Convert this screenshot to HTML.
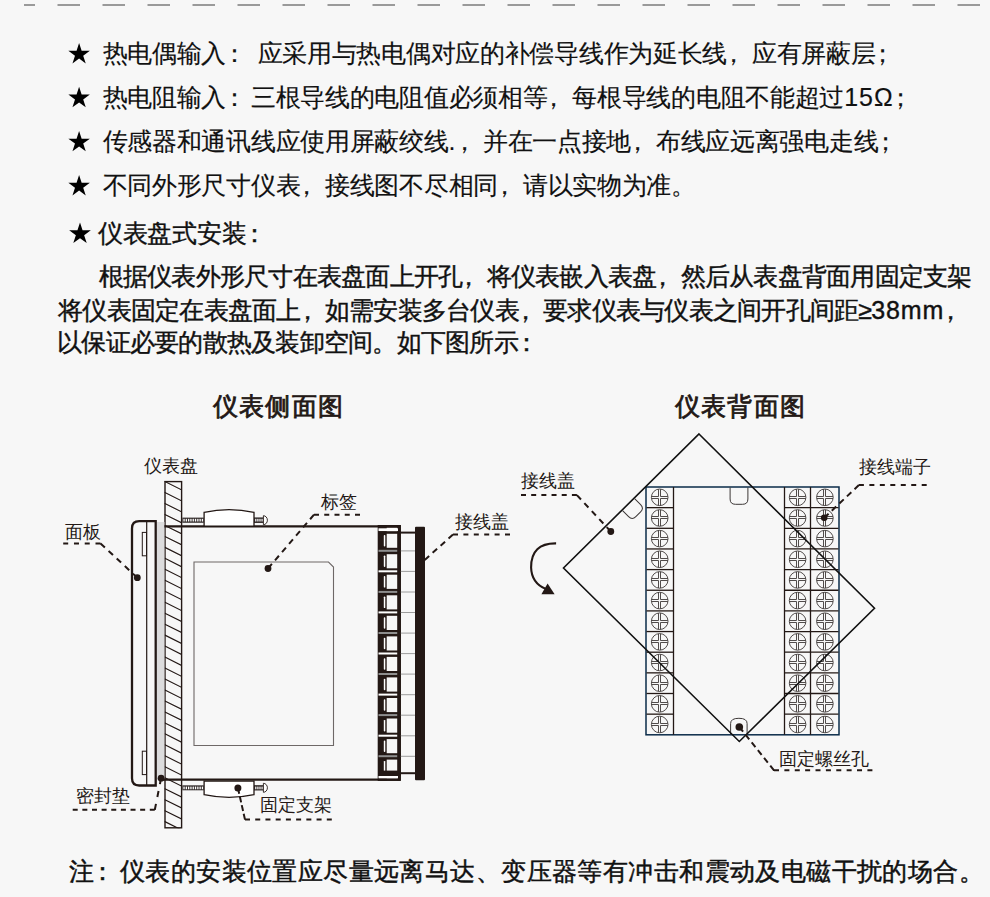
<!DOCTYPE html>
<html><head><meta charset="utf-8">
<style>
html,body{margin:0;padding:0;}
body{width:990px;height:897px;background:#f7f7f7;position:relative;overflow:hidden;font-family:"Liberation Sans",sans-serif;color:#111;}
.t{position:absolute;white-space:nowrap;line-height:1;}
.b{font-size:25px;letter-spacing:-0.28px;-webkit-text-stroke:0.15px #111;}
.p{font-size:25px;letter-spacing:-0.75px;-webkit-text-stroke:0.4px #111;}
.b5{font-size:25px;letter-spacing:-0.28px;-webkit-text-stroke:0.35px #111;}
.m{letter-spacing:0.9px;}
.m2{letter-spacing:1.0px;}
.m3{letter-spacing:2.5px;}
.pc,.pk,.ps{display:inline-block;}
.pc{transform:translateX(-6px);}
.pk{transform:translateX(-4px);}
.ps{transform:translateX(-5.5px);}
.n{font-size:25px;letter-spacing:0.42px;-webkit-text-stroke:0.45px #111;}
.lb{font-size:17.5px;color:#231815;}
.ti{font-family:"Liberation Serif",serif;font-weight:normal;font-size:25px;color:#231815;letter-spacing:1.4px;-webkit-text-stroke:0.8px #231815}
svg{position:absolute;left:0;top:0;}
</style></head><body>
<svg width="990" height="897" viewBox="0 0 990 897">
<line x1="12.5" y1="5" x2="990" y2="5" stroke="#7c7c7c" stroke-width="1.3" stroke-dasharray="22.5 22.5"/>
<rect x="0" y="0" width="24" height="10" fill="#f7f7f7"/>
<polygon points="79.10,43.00 81.64,50.81 89.85,50.81 83.21,55.63 85.74,63.44 79.10,58.62 72.46,63.44 74.99,55.63 68.35,50.81 76.56,50.81" fill="#000"/>
<polygon points="79.10,86.80 81.64,94.61 89.85,94.61 83.21,99.43 85.74,107.24 79.10,102.42 72.46,107.24 74.99,99.43 68.35,94.61 76.56,94.61" fill="#000"/>
<polygon points="79.10,130.90 81.64,138.71 89.85,138.71 83.21,143.53 85.74,151.34 79.10,146.52 72.46,151.34 74.99,143.53 68.35,138.71 76.56,138.71" fill="#000"/>
<polygon points="79.10,175.00 81.64,182.81 89.85,182.81 83.21,187.63 85.74,195.44 79.10,190.62 72.46,195.44 74.99,187.63 68.35,182.81 76.56,182.81" fill="#000"/>
<polygon points="80.00,222.40 82.56,230.28 90.84,230.28 84.14,235.15 86.70,243.02 80.00,238.15 73.30,243.02 75.86,235.15 69.16,230.28 77.44,230.28" fill="#000"/>
<defs><clipPath id="hc"><rect x="164.4" y="481" width="17.6" height="347.3"/></clipPath></defs>
<path d="M164.4 481.30L182 490.10M164.4 492.27L182 501.07M164.4 503.24L182 512.04M164.4 514.21L182 523.01M164.4 525.18L182 533.98M164.4 536.15L182 544.95M164.4 547.12L182 555.92M164.4 558.09L182 566.89M164.4 569.06L182 577.86M164.4 580.03L182 588.83M164.4 591.00L182 599.80M164.4 601.97L182 610.77M164.4 612.94L182 621.74M164.4 623.91L182 632.71M164.4 634.88L182 643.68M164.4 645.85L182 654.65M164.4 656.82L182 665.62M164.4 667.79L182 676.59M164.4 678.76L182 687.56M164.4 689.73L182 698.53M164.4 700.70L182 709.50M164.4 711.67L182 720.47M164.4 722.64L182 731.44M164.4 733.61L182 742.41M164.4 744.58L182 753.38M164.4 755.55L182 764.35M164.4 766.52L182 775.32M164.4 777.49L182 786.29M164.4 788.46L182 797.26M164.4 799.43L182 808.23M164.4 810.40L182 819.20M164.4 821.37L182 830.17M164.4 832.34L182 841.14" stroke="#231815" stroke-width="1.15" clip-path="url(#hc)"/>
<rect x="165" y="481.6" width="16.6" height="346.2" fill="none" stroke="#231815" stroke-width="1.4"/>
<rect x="156.8" y="522" width="7.6" height="258" fill="#dcdcdd"/>
<path d="M155.7 521.2H139.2Q132 521.2 132 528.4V778.3Q132 785.5 139.2 785.5H155.7Z" fill="none" stroke="#231815" stroke-width="2.3"/>
<line x1="146.7" y1="522" x2="146.7" y2="785" stroke="#231815" stroke-width="1.2"/>
<rect x="142.3" y="532.4" width="4.2" height="23.4" fill="none" stroke="#231815" stroke-width="1"/>
<rect x="142.3" y="751.2" width="4.2" height="23.4" fill="none" stroke="#231815" stroke-width="1"/>
<line x1="164.4" y1="526.3" x2="400" y2="526.3" stroke="#231815" stroke-width="2.2"/>
<line x1="161" y1="779.7" x2="400" y2="779.7" stroke="#231815" stroke-width="2.2"/>
<path d="M194 745.5V562H328.5L333.5 567V745.5Z" fill="none" stroke="#6e6867" stroke-width="1.1"/>
<rect x="182.3" y="517.6" width="21.5" height="5.2" fill="#3a3332"/>
<rect x="254" y="517.4" width="9.5" height="5.6" fill="#3a3332"/>
<rect x="183.4" y="518.8" width="1.3" height="2.8" rx="0.6" fill="#fff"/>
<rect x="185.7" y="518.8" width="1.3" height="2.8" rx="0.6" fill="#fff"/>
<rect x="188.0" y="518.8" width="1.3" height="2.8" rx="0.6" fill="#fff"/>
<rect x="190.3" y="518.8" width="1.3" height="2.8" rx="0.6" fill="#fff"/>
<rect x="192.6" y="518.8" width="1.3" height="2.8" rx="0.6" fill="#fff"/>
<rect x="194.9" y="518.8" width="1.3" height="2.8" rx="0.6" fill="#fff"/>
<rect x="197.2" y="518.8" width="1.3" height="2.8" rx="0.6" fill="#fff"/>
<rect x="199.5" y="518.8" width="1.3" height="2.8" rx="0.6" fill="#fff"/>
<rect x="201.8" y="518.8" width="1.3" height="2.8" rx="0.6" fill="#fff"/>
<rect x="255.2" y="518.8" width="1.2" height="2.8" rx="0.6" fill="#fff"/>
<rect x="257.3" y="518.8" width="1.2" height="2.8" rx="0.6" fill="#fff"/>
<rect x="259.4" y="518.8" width="1.2" height="2.8" rx="0.6" fill="#fff"/>
<rect x="261.5" y="518.8" width="1.2" height="2.8" rx="0.6" fill="#fff"/>
<path d="M263.4 515.7A4 4.5 0 0 1 263.4 524.7Z" fill="#fff" stroke="#231815" stroke-width="0.9"/>
<path d="M204.1 526.1V512.3A118 118 0 0 1 254 512.3V526.1Z" fill="#fff" stroke="#231815" stroke-width="1.3"/>
<rect x="182.3" y="785.3" width="21.5" height="5.0" fill="#3a3332"/>
<rect x="254" y="785.0999999999999" width="9.5" height="5.4" fill="#3a3332"/>
<rect x="183.4" y="786.5" width="1.3" height="2.8" rx="0.6" fill="#fff"/>
<rect x="185.7" y="786.5" width="1.3" height="2.8" rx="0.6" fill="#fff"/>
<rect x="188.0" y="786.5" width="1.3" height="2.8" rx="0.6" fill="#fff"/>
<rect x="190.3" y="786.5" width="1.3" height="2.8" rx="0.6" fill="#fff"/>
<rect x="192.6" y="786.5" width="1.3" height="2.8" rx="0.6" fill="#fff"/>
<rect x="194.9" y="786.5" width="1.3" height="2.8" rx="0.6" fill="#fff"/>
<rect x="197.2" y="786.5" width="1.3" height="2.8" rx="0.6" fill="#fff"/>
<rect x="199.5" y="786.5" width="1.3" height="2.8" rx="0.6" fill="#fff"/>
<rect x="201.8" y="786.5" width="1.3" height="2.8" rx="0.6" fill="#fff"/>
<rect x="255.2" y="786.5" width="1.2" height="2.8" rx="0.6" fill="#fff"/>
<rect x="257.3" y="786.5" width="1.2" height="2.8" rx="0.6" fill="#fff"/>
<rect x="259.4" y="786.5" width="1.2" height="2.8" rx="0.6" fill="#fff"/>
<rect x="261.5" y="786.5" width="1.2" height="2.8" rx="0.6" fill="#fff"/>
<path d="M263.4 783.3A4 4.5 0 0 1 263.4 792.3Z" fill="#fff" stroke="#231815" stroke-width="0.9"/>
<path d="M204.1 781.2V794.7A118 118 0 0 0 254 794.7V781.2Z" fill="#fff" stroke="#231815" stroke-width="1.3"/>
<rect x="379" y="526.3" width="20.6" height="253.3" fill="none" stroke="#231815" stroke-width="2.6"/>
<rect x="378" y="525.2" width="8.7" height="255.3" fill="#231815"/>
<rect x="397.2" y="525.2" width="3.6" height="255.3" fill="#231815"/>
<rect x="378.5" y="528.3" width="19.5" height="2.9" fill="#fff"/>
<rect x="378.5" y="776" width="19.5" height="2.3" fill="#fff"/>
<rect x="378" y="531.2" width="22.8" height="2.6" fill="#231815"/>
<rect x="378" y="547.8" width="22.8" height="6.4" fill="#231815"/>
<rect x="378.5" y="549.8" width="18.7" height="2.0" fill="#8e8e8e"/>
<rect x="383.8" y="535.0" width="1.5" height="11.5" rx="0.7" fill="#fff"/>
<rect x="378" y="568.3" width="22.8" height="6.4" fill="#231815"/>
<rect x="378.5" y="570.3" width="18.7" height="2.0" fill="#ffffff"/>
<rect x="383.8" y="555.5" width="1.5" height="11.5" rx="0.7" fill="#fff"/>
<rect x="378" y="588.9" width="22.8" height="6.4" fill="#231815"/>
<rect x="378.5" y="590.9" width="18.7" height="2.0" fill="#8e8e8e"/>
<rect x="383.8" y="576.1" width="1.5" height="11.5" rx="0.7" fill="#fff"/>
<rect x="378" y="609.4" width="22.8" height="6.4" fill="#231815"/>
<rect x="378.5" y="611.4" width="18.7" height="2.0" fill="#ffffff"/>
<rect x="383.8" y="596.6" width="1.5" height="11.5" rx="0.7" fill="#fff"/>
<rect x="378" y="630.0" width="22.8" height="6.4" fill="#231815"/>
<rect x="378.5" y="632.0" width="18.7" height="2.0" fill="#8e8e8e"/>
<rect x="383.8" y="617.2" width="1.5" height="11.5" rx="0.7" fill="#fff"/>
<rect x="378" y="650.5" width="22.8" height="6.4" fill="#231815"/>
<rect x="378.5" y="652.5" width="18.7" height="2.0" fill="#ffffff"/>
<rect x="383.8" y="637.7" width="1.5" height="11.5" rx="0.7" fill="#fff"/>
<rect x="378" y="671.0" width="22.8" height="6.4" fill="#231815"/>
<rect x="378.5" y="673.0" width="18.7" height="2.0" fill="#8e8e8e"/>
<rect x="383.8" y="658.2" width="1.5" height="11.5" rx="0.7" fill="#fff"/>
<rect x="378" y="691.6" width="22.8" height="6.4" fill="#231815"/>
<rect x="378.5" y="693.6" width="18.7" height="2.0" fill="#ffffff"/>
<rect x="383.8" y="678.8" width="1.5" height="11.5" rx="0.7" fill="#fff"/>
<rect x="378" y="712.1" width="22.8" height="6.4" fill="#231815"/>
<rect x="378.5" y="714.1" width="18.7" height="2.0" fill="#8e8e8e"/>
<rect x="383.8" y="699.3" width="1.5" height="11.5" rx="0.7" fill="#fff"/>
<rect x="378" y="732.7" width="22.8" height="6.4" fill="#231815"/>
<rect x="378.5" y="734.7" width="18.7" height="2.0" fill="#ffffff"/>
<rect x="383.8" y="719.9" width="1.5" height="11.5" rx="0.7" fill="#fff"/>
<rect x="378" y="753.2" width="22.8" height="6.4" fill="#231815"/>
<rect x="378.5" y="755.2" width="18.7" height="2.0" fill="#8e8e8e"/>
<rect x="383.8" y="740.4" width="1.5" height="11.5" rx="0.7" fill="#fff"/>
<rect x="383.8" y="760.9" width="1.5" height="11.5" rx="0.7" fill="#fff"/>
<rect x="378" y="770.6" width="22.8" height="5.4" fill="#231815"/>
<line x1="400.8" y1="532.6" x2="415.5" y2="532.6" stroke="#231815" stroke-width="2"/>
<line x1="400.8" y1="773.2" x2="415.5" y2="773.2" stroke="#231815" stroke-width="2"/>
<line x1="400.8" y1="550.9" x2="415.5" y2="550.9" stroke="#9c9c9c" stroke-width="1"/>
<line x1="400.8" y1="571.4" x2="415.5" y2="571.4" stroke="#9c9c9c" stroke-width="1"/>
<line x1="400.8" y1="592.0" x2="415.5" y2="592.0" stroke="#9c9c9c" stroke-width="1"/>
<line x1="400.8" y1="612.5" x2="415.5" y2="612.5" stroke="#9c9c9c" stroke-width="1"/>
<line x1="400.8" y1="633.1" x2="415.5" y2="633.1" stroke="#9c9c9c" stroke-width="1"/>
<line x1="400.8" y1="653.6" x2="415.5" y2="653.6" stroke="#9c9c9c" stroke-width="1"/>
<line x1="400.8" y1="674.1" x2="415.5" y2="674.1" stroke="#9c9c9c" stroke-width="1"/>
<line x1="400.8" y1="694.7" x2="415.5" y2="694.7" stroke="#9c9c9c" stroke-width="1"/>
<line x1="400.8" y1="715.2" x2="415.5" y2="715.2" stroke="#9c9c9c" stroke-width="1"/>
<line x1="400.8" y1="735.8" x2="415.5" y2="735.8" stroke="#9c9c9c" stroke-width="1"/>
<line x1="400.8" y1="756.3" x2="415.5" y2="756.3" stroke="#9c9c9c" stroke-width="1"/>
<rect x="415" y="526.7" width="10" height="253.5" rx="1" fill="#231815"/>
<path d="M63.20 543.40L68.20 543.40M73.97 543.40L78.97 543.40M84.73 543.40L89.73 543.40M95.50 543.40L100.50 543.40M100.50 543.40L104.89 547.49M108.60 550.95L112.99 555.04M116.71 558.50L121.09 562.60M124.81 566.06L129.20 570.15M132.91 573.61L137.30 577.70" stroke="#231815" stroke-width="2.0" fill="none"/>
<circle cx="137.3" cy="577.7" r="3.4" fill="#231815"/>
<path d="M360.00 514.70L355.00 514.70M349.75 514.70L344.75 514.70M339.50 514.70L334.50 514.70M329.25 514.70L324.25 514.70M319.00 514.70L314.00 514.70M314.00 514.70L310.10 519.26M306.98 522.91L303.08 527.47M299.97 531.11L296.07 535.67M292.95 539.32L289.05 543.88M285.93 547.53L282.03 552.09M278.92 555.73L275.02 560.29M271.90 563.94L268.00 568.50" stroke="#231815" stroke-width="2.0" fill="none"/>
<circle cx="268" cy="568.5" r="3.4" fill="#231815"/>
<path d="M510.00 534.50L505.00 534.50M499.60 534.50L494.60 534.50M489.20 534.50L484.20 534.50M478.80 534.50L473.80 534.50M468.40 534.50L463.40 534.50M458.00 534.50L453.00 534.50M453.00 534.50L448.54 538.52M445.05 541.66L440.60 545.68M437.10 548.82L432.65 552.84M429.16 555.98L424.70 560.00" stroke="#231815" stroke-width="2.0" fill="none"/>
<path d="M72.70 809.80L77.70 809.80M82.34 809.80L87.34 809.80M91.98 809.80L96.98 809.80M101.61 809.80L106.61 809.80M111.25 809.80L116.25 809.80M120.89 809.80L125.89 809.80M130.53 809.80L135.53 809.80M140.16 809.80L145.16 809.80M149.80 809.80L154.80 809.80M154.80 809.80L155.97 803.92M157.36 796.94L158.54 791.06M159.93 784.08L161.10 778.20" stroke="#231815" stroke-width="2.0" fill="none"/>
<circle cx="161.1" cy="778.2" r="3.4" fill="#231815"/>
<path d="M331.80 819.60L326.80 819.60M321.57 819.60L316.57 819.60M311.35 819.60L306.35 819.60M301.12 819.60L296.12 819.60M290.90 819.60L285.90 819.60M280.68 819.60L275.68 819.60M270.45 819.60L265.45 819.60M260.23 819.60L255.22 819.60M250.00 819.60L245.00 819.60M245.00 819.60L243.69 813.75M243.07 810.98L241.76 805.13M241.14 802.37L239.83 796.52M239.21 793.75L237.90 787.90" stroke="#231815" stroke-width="2.0" fill="none"/>
<circle cx="237.9" cy="787.9" r="3.5" fill="#231815"/>
<rect x="646" y="487" width="193" height="247.8" fill="none" stroke="#0b2c4a" stroke-width="1.5"/>
<line x1="673.5" y1="487" x2="673.5" y2="734.8" stroke="#231815" stroke-width="1.3"/>
<line x1="784.5" y1="487" x2="784.5" y2="734.8" stroke="#231815" stroke-width="1.3"/>
<line x1="810.5" y1="487" x2="810.5" y2="734.8" stroke="#231815" stroke-width="1.3"/>
<line x1="646.5" y1="507.65" x2="673.5" y2="507.65" stroke="#231815" stroke-width="1.3"/>
<line x1="784.5" y1="507.65" x2="838.5" y2="507.65" stroke="#231815" stroke-width="1.3"/>
<line x1="646.5" y1="528.30" x2="673.5" y2="528.30" stroke="#231815" stroke-width="1.3"/>
<line x1="784.5" y1="528.30" x2="838.5" y2="528.30" stroke="#231815" stroke-width="1.3"/>
<line x1="646.5" y1="548.95" x2="673.5" y2="548.95" stroke="#231815" stroke-width="1.3"/>
<line x1="784.5" y1="548.95" x2="838.5" y2="548.95" stroke="#231815" stroke-width="1.3"/>
<line x1="646.5" y1="569.60" x2="673.5" y2="569.60" stroke="#231815" stroke-width="1.3"/>
<line x1="784.5" y1="569.60" x2="838.5" y2="569.60" stroke="#231815" stroke-width="1.3"/>
<line x1="646.5" y1="590.25" x2="673.5" y2="590.25" stroke="#231815" stroke-width="1.3"/>
<line x1="784.5" y1="590.25" x2="838.5" y2="590.25" stroke="#231815" stroke-width="1.3"/>
<line x1="646.5" y1="610.90" x2="673.5" y2="610.90" stroke="#231815" stroke-width="1.3"/>
<line x1="784.5" y1="610.90" x2="838.5" y2="610.90" stroke="#231815" stroke-width="1.3"/>
<line x1="646.5" y1="631.55" x2="673.5" y2="631.55" stroke="#231815" stroke-width="1.3"/>
<line x1="784.5" y1="631.55" x2="838.5" y2="631.55" stroke="#231815" stroke-width="1.3"/>
<line x1="646.5" y1="652.20" x2="673.5" y2="652.20" stroke="#231815" stroke-width="1.3"/>
<line x1="784.5" y1="652.20" x2="838.5" y2="652.20" stroke="#231815" stroke-width="1.3"/>
<line x1="646.5" y1="672.85" x2="673.5" y2="672.85" stroke="#231815" stroke-width="1.3"/>
<line x1="784.5" y1="672.85" x2="838.5" y2="672.85" stroke="#231815" stroke-width="1.3"/>
<line x1="646.5" y1="693.50" x2="673.5" y2="693.50" stroke="#231815" stroke-width="1.3"/>
<line x1="784.5" y1="693.50" x2="838.5" y2="693.50" stroke="#231815" stroke-width="1.3"/>
<line x1="646.5" y1="714.15" x2="673.5" y2="714.15" stroke="#231815" stroke-width="1.3"/>
<line x1="784.5" y1="714.15" x2="838.5" y2="714.15" stroke="#231815" stroke-width="1.3"/>
<circle cx="659.70" cy="497.32" r="8.3" fill="none" stroke="#3d3837" stroke-width="0.9"/>
<path d="M658.50 489.29V496.50M658.50 498.50V505.36M660.50 489.29V496.50M660.50 498.50V505.36M651.66 496.50H658.50M660.50 496.50H667.74M651.66 498.50H658.50M660.50 498.50H667.74" stroke="#3d3837" stroke-width="0.9" fill="none"/>
<circle cx="797.60" cy="497.32" r="8.3" fill="none" stroke="#3d3837" stroke-width="0.9"/>
<path d="M796.50 489.29V496.50M796.50 498.50V505.36M798.50 489.29V496.50M798.50 498.50V505.36M789.56 496.50H796.50M798.50 496.50H805.64M789.56 498.50H796.50M798.50 498.50H805.64" stroke="#3d3837" stroke-width="0.9" fill="none"/>
<circle cx="824.90" cy="497.32" r="8.3" fill="none" stroke="#3d3837" stroke-width="0.9"/>
<path d="M823.50 489.29V496.50M823.50 498.50V505.36M825.50 489.29V496.50M825.50 498.50V505.36M816.86 496.50H823.50M825.50 496.50H832.94M816.86 498.50H823.50M825.50 498.50H832.94" stroke="#3d3837" stroke-width="0.9" fill="none"/>
<circle cx="659.70" cy="517.98" r="8.3" fill="none" stroke="#3d3837" stroke-width="0.9"/>
<path d="M658.50 509.94V516.50M658.50 518.50V526.01M660.50 509.94V516.50M660.50 518.50V526.01M651.66 516.50H658.50M660.50 516.50H667.74M651.66 518.50H658.50M660.50 518.50H667.74" stroke="#3d3837" stroke-width="0.9" fill="none"/>
<circle cx="797.60" cy="517.98" r="8.3" fill="none" stroke="#3d3837" stroke-width="0.9"/>
<path d="M796.50 509.94V516.50M796.50 518.50V526.01M798.50 509.94V516.50M798.50 518.50V526.01M789.56 516.50H796.50M798.50 516.50H805.64M789.56 518.50H796.50M798.50 518.50H805.64" stroke="#3d3837" stroke-width="0.9" fill="none"/>
<circle cx="824.90" cy="517.98" r="8.3" fill="none" stroke="#3d3837" stroke-width="0.9"/>
<path d="M823.50 509.94V516.50M823.50 518.50V526.01M825.50 509.94V516.50M825.50 518.50V526.01M816.86 516.50H823.50M825.50 516.50H832.94M816.86 518.50H823.50M825.50 518.50H832.94" stroke="#3d3837" stroke-width="0.9" fill="none"/>
<circle cx="659.70" cy="538.62" r="8.3" fill="none" stroke="#3d3837" stroke-width="0.9"/>
<path d="M658.50 530.59V537.50M658.50 539.50V546.66M660.50 530.59V537.50M660.50 539.50V546.66M651.66 537.50H658.50M660.50 537.50H667.74M651.66 539.50H658.50M660.50 539.50H667.74" stroke="#3d3837" stroke-width="0.9" fill="none"/>
<circle cx="797.60" cy="538.62" r="8.3" fill="none" stroke="#3d3837" stroke-width="0.9"/>
<path d="M796.50 530.59V537.50M796.50 539.50V546.66M798.50 530.59V537.50M798.50 539.50V546.66M789.56 537.50H796.50M798.50 537.50H805.64M789.56 539.50H796.50M798.50 539.50H805.64" stroke="#3d3837" stroke-width="0.9" fill="none"/>
<circle cx="824.90" cy="538.62" r="8.3" fill="none" stroke="#3d3837" stroke-width="0.9"/>
<path d="M823.50 530.59V537.50M823.50 539.50V546.66M825.50 530.59V537.50M825.50 539.50V546.66M816.86 537.50H823.50M825.50 537.50H832.94M816.86 539.50H823.50M825.50 539.50H832.94" stroke="#3d3837" stroke-width="0.9" fill="none"/>
<circle cx="659.70" cy="559.27" r="8.3" fill="none" stroke="#3d3837" stroke-width="0.9"/>
<path d="M658.50 551.24V558.50M658.50 560.50V567.31M660.50 551.24V558.50M660.50 560.50V567.31M651.66 558.50H658.50M660.50 558.50H667.74M651.66 560.50H658.50M660.50 560.50H667.74" stroke="#3d3837" stroke-width="0.9" fill="none"/>
<circle cx="797.60" cy="559.27" r="8.3" fill="none" stroke="#3d3837" stroke-width="0.9"/>
<path d="M796.50 551.24V558.50M796.50 560.50V567.31M798.50 551.24V558.50M798.50 560.50V567.31M789.56 558.50H796.50M798.50 558.50H805.64M789.56 560.50H796.50M798.50 560.50H805.64" stroke="#3d3837" stroke-width="0.9" fill="none"/>
<circle cx="824.90" cy="559.27" r="8.3" fill="none" stroke="#3d3837" stroke-width="0.9"/>
<path d="M823.50 551.24V558.50M823.50 560.50V567.31M825.50 551.24V558.50M825.50 560.50V567.31M816.86 558.50H823.50M825.50 558.50H832.94M816.86 560.50H823.50M825.50 560.50H832.94" stroke="#3d3837" stroke-width="0.9" fill="none"/>
<circle cx="659.70" cy="579.92" r="8.3" fill="none" stroke="#3d3837" stroke-width="0.9"/>
<path d="M658.50 571.89V578.50M658.50 580.50V587.96M660.50 571.89V578.50M660.50 580.50V587.96M651.66 578.50H658.50M660.50 578.50H667.74M651.66 580.50H658.50M660.50 580.50H667.74" stroke="#3d3837" stroke-width="0.9" fill="none"/>
<circle cx="797.60" cy="579.92" r="8.3" fill="none" stroke="#3d3837" stroke-width="0.9"/>
<path d="M796.50 571.89V578.50M796.50 580.50V587.96M798.50 571.89V578.50M798.50 580.50V587.96M789.56 578.50H796.50M798.50 578.50H805.64M789.56 580.50H796.50M798.50 580.50H805.64" stroke="#3d3837" stroke-width="0.9" fill="none"/>
<circle cx="824.90" cy="579.92" r="8.3" fill="none" stroke="#3d3837" stroke-width="0.9"/>
<path d="M823.50 571.89V578.50M823.50 580.50V587.96M825.50 571.89V578.50M825.50 580.50V587.96M816.86 578.50H823.50M825.50 578.50H832.94M816.86 580.50H823.50M825.50 580.50H832.94" stroke="#3d3837" stroke-width="0.9" fill="none"/>
<circle cx="659.70" cy="600.58" r="8.3" fill="none" stroke="#3d3837" stroke-width="0.9"/>
<path d="M658.50 592.54V599.50M658.50 601.50V608.61M660.50 592.54V599.50M660.50 601.50V608.61M651.66 599.50H658.50M660.50 599.50H667.74M651.66 601.50H658.50M660.50 601.50H667.74" stroke="#3d3837" stroke-width="0.9" fill="none"/>
<circle cx="797.60" cy="600.58" r="8.3" fill="none" stroke="#3d3837" stroke-width="0.9"/>
<path d="M796.50 592.54V599.50M796.50 601.50V608.61M798.50 592.54V599.50M798.50 601.50V608.61M789.56 599.50H796.50M798.50 599.50H805.64M789.56 601.50H796.50M798.50 601.50H805.64" stroke="#3d3837" stroke-width="0.9" fill="none"/>
<circle cx="824.90" cy="600.58" r="8.3" fill="none" stroke="#3d3837" stroke-width="0.9"/>
<path d="M823.50 592.54V599.50M823.50 601.50V608.61M825.50 592.54V599.50M825.50 601.50V608.61M816.86 599.50H823.50M825.50 599.50H832.94M816.86 601.50H823.50M825.50 601.50H832.94" stroke="#3d3837" stroke-width="0.9" fill="none"/>
<circle cx="659.70" cy="621.23" r="8.3" fill="none" stroke="#3d3837" stroke-width="0.9"/>
<path d="M658.50 613.19V620.50M658.50 622.50V629.26M660.50 613.19V620.50M660.50 622.50V629.26M651.66 620.50H658.50M660.50 620.50H667.74M651.66 622.50H658.50M660.50 622.50H667.74" stroke="#3d3837" stroke-width="0.9" fill="none"/>
<circle cx="797.60" cy="621.23" r="8.3" fill="none" stroke="#3d3837" stroke-width="0.9"/>
<path d="M796.50 613.19V620.50M796.50 622.50V629.26M798.50 613.19V620.50M798.50 622.50V629.26M789.56 620.50H796.50M798.50 620.50H805.64M789.56 622.50H796.50M798.50 622.50H805.64" stroke="#3d3837" stroke-width="0.9" fill="none"/>
<circle cx="824.90" cy="621.23" r="8.3" fill="none" stroke="#3d3837" stroke-width="0.9"/>
<path d="M823.50 613.19V620.50M823.50 622.50V629.26M825.50 613.19V620.50M825.50 622.50V629.26M816.86 620.50H823.50M825.50 620.50H832.94M816.86 622.50H823.50M825.50 622.50H832.94" stroke="#3d3837" stroke-width="0.9" fill="none"/>
<circle cx="659.70" cy="641.88" r="8.3" fill="none" stroke="#3d3837" stroke-width="0.9"/>
<path d="M658.50 633.84V640.50M658.50 642.50V649.91M660.50 633.84V640.50M660.50 642.50V649.91M651.66 640.50H658.50M660.50 640.50H667.74M651.66 642.50H658.50M660.50 642.50H667.74" stroke="#3d3837" stroke-width="0.9" fill="none"/>
<circle cx="797.60" cy="641.88" r="8.3" fill="none" stroke="#3d3837" stroke-width="0.9"/>
<path d="M796.50 633.84V640.50M796.50 642.50V649.91M798.50 633.84V640.50M798.50 642.50V649.91M789.56 640.50H796.50M798.50 640.50H805.64M789.56 642.50H796.50M798.50 642.50H805.64" stroke="#3d3837" stroke-width="0.9" fill="none"/>
<circle cx="824.90" cy="641.88" r="8.3" fill="none" stroke="#3d3837" stroke-width="0.9"/>
<path d="M823.50 633.84V640.50M823.50 642.50V649.91M825.50 633.84V640.50M825.50 642.50V649.91M816.86 640.50H823.50M825.50 640.50H832.94M816.86 642.50H823.50M825.50 642.50H832.94" stroke="#3d3837" stroke-width="0.9" fill="none"/>
<circle cx="659.70" cy="662.52" r="8.3" fill="none" stroke="#3d3837" stroke-width="0.9"/>
<path d="M658.50 654.49V661.50M658.50 663.50V670.56M660.50 654.49V661.50M660.50 663.50V670.56M651.66 661.50H658.50M660.50 661.50H667.74M651.66 663.50H658.50M660.50 663.50H667.74" stroke="#3d3837" stroke-width="0.9" fill="none"/>
<circle cx="797.60" cy="662.52" r="8.3" fill="none" stroke="#3d3837" stroke-width="0.9"/>
<path d="M796.50 654.49V661.50M796.50 663.50V670.56M798.50 654.49V661.50M798.50 663.50V670.56M789.56 661.50H796.50M798.50 661.50H805.64M789.56 663.50H796.50M798.50 663.50H805.64" stroke="#3d3837" stroke-width="0.9" fill="none"/>
<circle cx="824.90" cy="662.52" r="8.3" fill="none" stroke="#3d3837" stroke-width="0.9"/>
<path d="M823.50 654.49V661.50M823.50 663.50V670.56M825.50 654.49V661.50M825.50 663.50V670.56M816.86 661.50H823.50M825.50 661.50H832.94M816.86 663.50H823.50M825.50 663.50H832.94" stroke="#3d3837" stroke-width="0.9" fill="none"/>
<circle cx="659.70" cy="683.17" r="8.3" fill="none" stroke="#3d3837" stroke-width="0.9"/>
<path d="M658.50 675.14V682.50M658.50 684.50V691.21M660.50 675.14V682.50M660.50 684.50V691.21M651.66 682.50H658.50M660.50 682.50H667.74M651.66 684.50H658.50M660.50 684.50H667.74" stroke="#3d3837" stroke-width="0.9" fill="none"/>
<circle cx="797.60" cy="683.17" r="8.3" fill="none" stroke="#3d3837" stroke-width="0.9"/>
<path d="M796.50 675.14V682.50M796.50 684.50V691.21M798.50 675.14V682.50M798.50 684.50V691.21M789.56 682.50H796.50M798.50 682.50H805.64M789.56 684.50H796.50M798.50 684.50H805.64" stroke="#3d3837" stroke-width="0.9" fill="none"/>
<circle cx="824.90" cy="683.17" r="8.3" fill="none" stroke="#3d3837" stroke-width="0.9"/>
<path d="M823.50 675.14V682.50M823.50 684.50V691.21M825.50 675.14V682.50M825.50 684.50V691.21M816.86 682.50H823.50M825.50 682.50H832.94M816.86 684.50H823.50M825.50 684.50H832.94" stroke="#3d3837" stroke-width="0.9" fill="none"/>
<circle cx="659.70" cy="703.83" r="8.3" fill="none" stroke="#3d3837" stroke-width="0.9"/>
<path d="M658.50 695.79V702.50M658.50 704.50V711.86M660.50 695.79V702.50M660.50 704.50V711.86M651.66 702.50H658.50M660.50 702.50H667.74M651.66 704.50H658.50M660.50 704.50H667.74" stroke="#3d3837" stroke-width="0.9" fill="none"/>
<circle cx="797.60" cy="703.83" r="8.3" fill="none" stroke="#3d3837" stroke-width="0.9"/>
<path d="M796.50 695.79V702.50M796.50 704.50V711.86M798.50 695.79V702.50M798.50 704.50V711.86M789.56 702.50H796.50M798.50 702.50H805.64M789.56 704.50H796.50M798.50 704.50H805.64" stroke="#3d3837" stroke-width="0.9" fill="none"/>
<circle cx="824.90" cy="703.83" r="8.3" fill="none" stroke="#3d3837" stroke-width="0.9"/>
<path d="M823.50 695.79V702.50M823.50 704.50V711.86M825.50 695.79V702.50M825.50 704.50V711.86M816.86 702.50H823.50M825.50 702.50H832.94M816.86 704.50H823.50M825.50 704.50H832.94" stroke="#3d3837" stroke-width="0.9" fill="none"/>
<circle cx="659.70" cy="724.48" r="8.3" fill="none" stroke="#3d3837" stroke-width="0.9"/>
<path d="M658.50 716.44V723.50M658.50 725.50V732.51M660.50 716.44V723.50M660.50 725.50V732.51M651.66 723.50H658.50M660.50 723.50H667.74M651.66 725.50H658.50M660.50 725.50H667.74" stroke="#3d3837" stroke-width="0.9" fill="none"/>
<circle cx="797.60" cy="724.48" r="8.3" fill="none" stroke="#3d3837" stroke-width="0.9"/>
<path d="M796.50 716.44V723.50M796.50 725.50V732.51M798.50 716.44V723.50M798.50 725.50V732.51M789.56 723.50H796.50M798.50 723.50H805.64M789.56 725.50H796.50M798.50 725.50H805.64" stroke="#3d3837" stroke-width="0.9" fill="none"/>
<circle cx="824.90" cy="724.48" r="8.3" fill="none" stroke="#3d3837" stroke-width="0.9"/>
<path d="M823.50 716.44V723.50M823.50 725.50V732.51M825.50 716.44V723.50M825.50 725.50V732.51M816.86 723.50H823.50M825.50 723.50H832.94M816.86 725.50H823.50M825.50 725.50H832.94" stroke="#3d3837" stroke-width="0.9" fill="none"/>
<path d="M730.1 487.5V499Q730.1 504.3 735.4 504.3H742.6Q747.9 504.3 747.9 499V487.5" fill="none" stroke="#3d3837" stroke-width="1"/>
<path d="M730.6 734.5V723.5Q730.6 718.3 738.9 718.3Q747.1 718.3 747.1 723.5V734.5" fill="none" stroke="#3d3837" stroke-width="1"/>
<path d="M699 434L874.5 608.2L739.3 741.5L563.5 568Z" fill="none" stroke="#111" stroke-width="1.6"/>
<g transform="translate(628.6 504.6) rotate(-45)"><path d="M-8.5 0V8.5Q-8.5 13.6 -3.4 13.6H3.4Q8.5 13.6 8.5 8.5V0" fill="none" stroke="#3d3837" stroke-width="1"/></g>
<path d="M556.1 543.4Q531 543 531.1 567.4Q531.5 583 546 589" fill="none" stroke="#231815" stroke-width="2.1"/>
<path d="M541.4 594.3H554.6L547.6 583.5Z" fill="#231815"/>
<path d="M521.00 495.10L526.00 495.10M531.18 495.10L536.18 495.10M541.36 495.10L546.36 495.10M551.54 495.10L556.54 495.10M561.72 495.10L566.72 495.10M571.90 495.10L576.90 495.10M576.90 495.10L580.99 499.49M584.35 503.10L588.44 507.49M591.81 511.10L595.89 515.50M599.26 519.11L603.35 523.50M606.71 527.11L610.80 531.50" stroke="#231815" stroke-width="2.0" fill="none"/>
<circle cx="610.8" cy="531.5" r="3.4" fill="#231815"/>
<path d="M926.70 485.10L921.70 485.10M916.23 485.10L911.23 485.10M905.77 485.10L900.77 485.10M895.30 485.10L890.30 485.10M884.83 485.10L879.83 485.10M874.37 485.10L869.37 485.10M863.90 485.10L858.90 485.10M858.90 485.10L854.53 489.21M851.32 492.25L846.95 496.36M843.73 499.39L839.37 503.51M836.15 506.54L831.78 510.65M828.57 513.69L824.20 517.80" stroke="#231815" stroke-width="2.0" fill="none"/>
<circle cx="824.2" cy="517.8" r="3.3" fill="#231815"/>
<path d="M872.40 770.30L867.40 770.30M862.02 770.30L857.02 770.30M851.64 770.30L846.64 770.30M841.27 770.30L836.27 770.30M830.89 770.30L825.89 770.30M820.51 770.30L815.51 770.30M810.13 770.30L805.13 770.30M799.76 770.30L794.76 770.30M789.38 770.30L784.38 770.30M779.00 770.30L774.00 770.30M774.00 770.30L770.25 765.62M767.81 762.58L764.06 757.89M761.62 754.85L757.87 750.17M755.43 747.13L751.68 742.45M749.24 739.41L745.49 734.72M743.05 731.68L739.30 727.00" stroke="#231815" stroke-width="2.0" fill="none"/>
<circle cx="739.3" cy="727" r="3.8" fill="#231815"/>
</svg>
<div class="t b" style="left:102.5px;top:41px">热电偶输入<span class="pk">：</span> 应采用与热电偶对应的补偿导线作为延长线<span class="pc">，</span>应有屏蔽层<span class="ps">；</span></div>
<div class="t b" style="left:102.5px;top:85px">热电阻输入<span class="pk">：</span>三根导线的电阻值必须相等<span class="pc">，</span>每根导线的电阻不能超过<span class="m2">15Ω</span><span class="ps">；</span></div>
<div class="t b" style="left:102.5px;top:129px">传感器和通讯线应使用屏蔽绞线<span class="m3">.</span><span class="pc">，</span>并在一点接地<span class="pc">，</span>布线应远离强电走线<span class="ps">；</span></div>
<div class="t b" style="left:102.5px;top:173px">不同外形尺寸仪表<span class="pc">，</span>接线图不尽相同<span class="pc">，</span>请以实物为准。</div>
<div class="t b5" style="left:98px;top:221px">仪表盘式安装<span class="pk">：</span></div>
<div class="t p" style="left:98.5px;top:264px">根据仪表外形尺寸在表盘面上开孔<span class="pc">，</span>将仪表嵌入表盘<span class="pc">，</span>然后从表盘背面用固定支架</div>
<div class="t p" style="left:58px;top:298px">将仪表固定在表盘面上<span class="pc">，</span>如需安装多台仪表<span class="pc">，</span>要求仪表与仪表之间开孔间距≥<span class="m">38mm</span><span class="pc">，</span></div>
<div class="t p" style="left:57px;top:330px">以保证必要的散热及装卸空间。如下图所示<span class="pk">：</span></div>
<div class="t ti" style="left:212.5px;top:393.5px">仪表侧面图</div>
<div class="t ti" style="left:674.5px;top:393.5px">仪表背面图</div>
<div class="t lb" style="left:144px;top:458px">仪表盘</div>
<div class="t lb" style="left:65px;top:524px">面板</div>
<div class="t lb" style="left:321px;top:494px">标签</div>
<div class="t lb" style="left:455px;top:514px">接线盖</div>
<div class="t lb" style="left:76px;top:788px">密封垫</div>
<div class="t lb" style="left:260px;top:797px">固定支架</div>
<div class="t lb" style="left:521px;top:472.5px">接线盖</div>
<div class="t lb" style="left:859px;top:459px">接线端子</div>
<div class="t lb" style="left:779px;top:751px">固定螺丝孔</div>
<div class="t n" style="left:69px;top:858.5px">注<span class="pk">：</span>仪表的安装位置应尽量远离马达、变压器等有冲击和震动及电磁干扰的场合。</div>
</body></html>
